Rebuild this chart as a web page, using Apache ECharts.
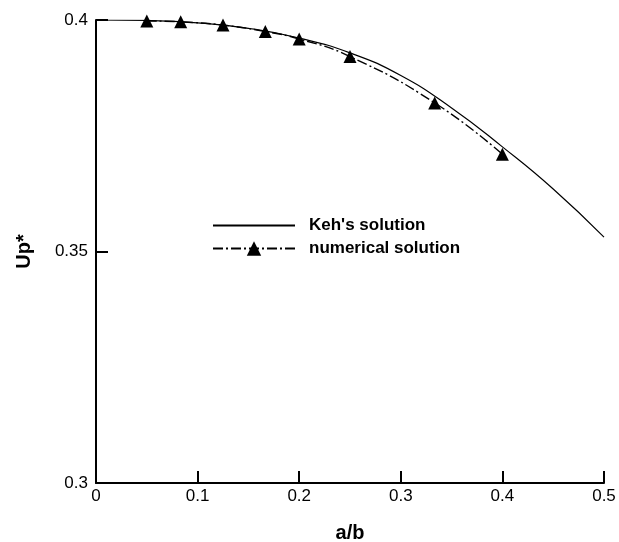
<!DOCTYPE html>
<html>
<head>
<meta charset="utf-8">
<script src="https://cdn.jsdelivr.net/npm/echarts@6/dist/echarts.min.js"></script>
<style>
  html, body { margin: 0; padding: 0; background: #fff; }
  #chart { width: 619px; height: 542px; }
</style>
</head>
<body>
<div id="chart"></div>
<script>
// Keh's solution (analytic curve)
const kehX = [0, 0.05, 0.1, 0.15, 0.2, 0.25, 0.3, 0.35, 0.4, 0.45, 0.5]
const kehY = [0.4, 0.3999, 0.3994, 0.3982, 0.3961, 0.3929, 0.3880, 0.3810, 0.3726, 0.3635, 0.3531]

// numerical solution (triangles)
const numX = [0.05, 1 / 12, 0.125, 1 / 6, 0.2, 0.25, 1 / 3, 0.4]
const numY = [0.3998, 0.3996, 0.3989, 0.3975, 0.3959, 0.3921, 0.3821, 0.3710]

// axis ticks
const xTicks = [0, 0.1, 0.2, 0.3, 0.4, 0.5]
const yTicks = [0.3, 0.35, 0.4]

const font = 'Liberation Sans, Arial, Helvetica, sans-serif'

const chart = echarts.init(document.getElementById('chart'))

// 去掉浮点尾巴
const fmt = v => String(Math.round(v * 1000) / 1000)

const axisCommon = {
  axisLine: { show: true, lineStyle: { color: '#000', width: 2 } },
  axisTick: { show: true, inside: true, length: 12, lineStyle: { color: '#000', width: 2 } },
  splitLine: { show: false },
  axisLabel: { color: '#000', fontSize: 17, fontFamily: font, formatter: fmt },
  nameTextStyle: { color: '#000', fontSize: 20, fontWeight: 'bold', fontFamily: font }
}

const option = {
  animation: false,
  backgroundColor: '#fff',
  grid: { left: 96, top: 20, right: 15, bottom: 59, containLabel: false, outerBoundsMode: 'none' },
  legend: {
    orient: 'vertical',
    left: 212,
    top: 217,
    padding: 0,
    itemWidth: 82,
    itemHeight: 18,
    itemGap: 6,
    textStyle: { color: '#000', fontSize: 17, fontWeight: 'bold', fontFamily: font, padding: [0, 0, 0, 9] },
    data: [
      { name: "Keh's solution", itemStyle: { color: 'rgba(0,0,0,0)', borderWidth: 0 } },
      { name: 'numerical solution' }
    ]
  },
  xAxis: Object.assign({}, axisCommon, {
    type: 'value',
    min: xTicks[0],
    max: xTicks[xTicks.length - 1],
    interval: xTicks[1] - xTicks[0],
    name: 'a/b',
    nameLocation: 'middle',
    nameGap: 40,
    axisLabel: Object.assign({}, axisCommon.axisLabel, { margin: 5 })
  }),
  yAxis: Object.assign({}, axisCommon, {
    type: 'value',
    min: yTicks[0],
    max: yTicks[yTicks.length - 1],
    interval: yTicks[1] - yTicks[0],
    name: 'Up*',
    nameLocation: 'middle',
    nameGap: 62,
    axisLabel: Object.assign({}, axisCommon.axisLabel, { margin: 8 })
  }),
  series: [
    {
      name: "Keh's solution",
      type: 'line',
      smooth: true,
      symbol: 'none',
      lineStyle: { color: '#000', width: 1.2 },
      itemStyle: { color: '#000' },
      data: kehX.map((x, i) => [x, kehY[i]])
    },
    {
      name: 'numerical solution',
      type: 'line',
      smooth: true,
      symbol: 'triangle',
      symbolSize: 13,
      lineStyle: { color: '#000', width: 1.4, type: [10, 3, 2, 3] },
      itemStyle: { color: '#000' },
      data: numX.map((x, i) => [x, numY[i]])
    }
  ]
}

chart.setOption(option)
</script>
</body>
</html>
